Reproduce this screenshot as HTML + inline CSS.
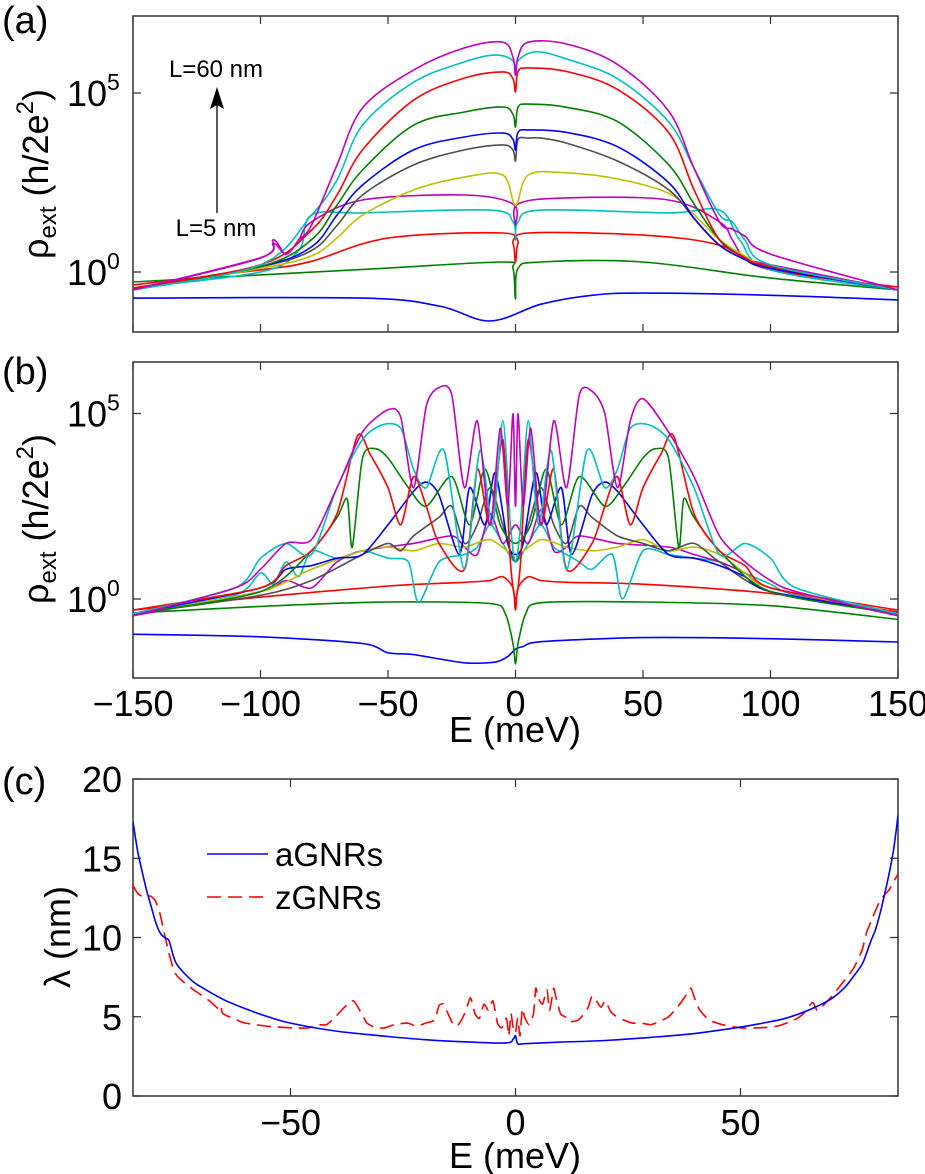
<!DOCTYPE html>
<html><head><meta charset="utf-8"><style>
html,body{margin:0;padding:0;background:#fff;}
svg{display:block;font-family:"Liberation Sans Narrow","Liberation Sans",sans-serif;}
</style></head><body>
<svg id="fig" width="925" height="1174" viewBox="0 0 925 1174" xmlns="http://www.w3.org/2000/svg">
<defs>
<clipPath id="clipA"><rect x="133" y="16" width="765" height="316"/></clipPath>
<clipPath id="clipB"><rect x="133" y="362" width="765" height="316"/></clipPath>
<clipPath id="clipC"><rect x="133" y="779" width="765" height="317"/></clipPath>
</defs>
<g id="root"></g>
</svg>
<script>
// ---------- Panel (a) data: log10(rho) ----------
const colorsA = ["#0000ff","#008000","#ff0000","#00bfbf","#bf00bf","#bfbf00","#505050","#0000ff","#008000","#ff0000","#00bfbf","#bf00bf"];
const aE = [
 [-150,-60,-30,-10,10,30,50,100,150],
 [-150,-100,-50,-5,-1,0,1,10,50,100,150],
 [-150,-100,-80,-50,-5,-1,0,1,5,50,80,100,150],
 [-150,-100,-85,-80,-60,-10,-1,0,1,10,60,80,88,100,150],
 [-150,-100,-95,-90,-85,-80,-60,-20,-1,0,1,20,60,80,85,90,100,150],
 [-150,-100,-80,-70,-60,-40,-20,-5,0,5,20,40,60,70,80,90,100,150],
 [-150,-100,-80,-70,-60,-40,-20,-5,-1,0,1,5,10,20,40,60,70,80,90,100,150],
 [-150,-100,-80,-70,-60,-40,-20,-5,-1,0,1,5,20,40,60,70,80,90,100,150],
 [-150,-100,-80,-70,-60,-40,-20,-5,-1,0,1,5,20,40,60,70,80,90,100,150],
 [-150,-100,-80,-70,-60,-40,-20,-5,-1,0,1,5,20,40,60,70,80,90,100,150],
 [-150,-100,-80,-70,-60,-40,-20,-8,-1,0,1,8,20,40,60,70,80,85,90,100,150],
 [-150,-100,-95,-90,-85,-80,-70,-60,-40,-20,-5,-1,0,1,5,20,40,60,70,80,85,90,100,150]
];
const aV = [
 [-0.73,-0.73,-0.95,-1.37,-0.9,-0.65,-0.59,-0.65,-0.78],
 [-0.28,-0.08,0.11,0.28,0.1,-0.75,0.1,0.28,0.28,-0.17,-0.5],
 [-0.36,0.06,0.3,0.95,1.09,0.8,0.28,0.8,1.09,1.03,0.75,0.06,-0.42],
 [-0.45,0.0,0.61,1.59,1.65,1.73,1.4,0.89,1.4,1.73,1.65,1.73,0.89,0.06,-0.5],
 [-0.5,0.39,0.9,0.5,0.9,1.4,2.01,2.15,1.9,1.31,1.9,2.07,2.01,1.4,0.9,0.39,0.2,-0.5],
 [-0.5,0.1,0.45,0.95,1.59,2.29,2.65,2.71,1.87,2.71,2.77,2.6,2.2,1.6,0.9,0.45,0.15,-0.5],
 [-0.45,0.15,0.6,1.3,2.15,2.99,3.41,3.55,3.4,3.1,3.7,3.74,3.74,3.6,3.1,2.3,1.5,0.75,0.35,0.1,-0.5],
 [-0.5,0.15,0.7,1.59,2.43,3.41,3.77,3.88,3.7,3.41,3.9,3.97,3.9,3.5,2.5,1.5,0.75,0.35,0.1,-0.5],
 [-0.5,0.15,0.9,1.87,2.85,4.1,4.47,4.61,4.4,4.05,4.6,4.69,4.6,4.2,3.0,1.9,0.9,0.4,0.15,-0.5],
 [-0.45,0.2,1.17,2.15,3.41,4.8,5.42,5.59,5.4,5.03,5.6,5.7,5.6,5.1,3.9,2.3,0.9,0.4,0.15,-0.5],
 [-0.5,0.2,1.59,2.57,4.1,5.3,5.87,6.06,5.9,5.5,5.9,6.15,5.95,5.4,4.2,2.9,1.6,1.4,0.89,0.2,-0.5],
 [-0.5,0.4,0.8,0.5,0.89,1.31,2.99,4.58,5.64,6.26,6.42,6.0,5.5,6.0,6.42,6.37,5.8,4.5,2.9,1.4,1.2,1.0,0.5,-0.5]
];
const aYTicks = [0,5];
const xTicksAB = [-150,-100,-50,0,50,100,150];

// ---------- Panel (b) data: log10(rho) ----------
const colorsB = colorsA;
const bE = [
 [-150,-100,-60,-50,-40,-20,-8,-3,0,3,10,50,100,150],
 [-150,-100,-50,-10,-4,-1,0,1,4,10,50,100,150],
 [-150,-100,-50,-20,-10,-5,-1,0,1,5,10,20,50,100,150],
 [-150,-110,-100,-95,-90,-85,-80,-70,-60,-50,-42,-38,-30,-20,-15,-10,-5,0,5,10,15,20,25,30,38,42,50,60,70,80,90,100,110,150],
 [-150,-100,-90,-80,-70,-60,-40,-25,-20,-15,-10,-5,0,5,10,15,20,25,40,60,70,80,90,100,150],
 [-150,-100,-80,-60,-50,-40,-30,-20,-10,0,10,20,30,40,50,60,70,80,90,100,150],
 [-150,-100,-80,-60,-50,-45,-40,-30,-25,-20,-15,-10,-5,0,5,10,15,20,25,30,40,50,60,70,80,100,150],
 [-150,-100,-90,-80,-70,-60,-50,-40,-35,-30,-22,-18,-12,-8,-3,0,3,8,12,18,22,30,35,40,50,60,70,80,90,100,150],
 [-150,-100,-80,-70,-66,-64,-60,-55,-50,-42,-35,-25,-18,-12,-6,0,6,12,18,25,35,42,50,55,60,64,66,70,80,100,150],
 [-150,-100,-90,-80,-70,-62,-57,-50,-45,-40,-35,-30,-20,-15,-10,-5,-2,0,2,5,10,15,20,30,35,40,45,50,57,62,70,80,90,100,150],
 [-150,-110,-100,-90,-80,-70,-60,-52,-45,-40,-35,-28,-20,-14,-9,-5,-2,0,2,5,9,14,20,28,35,40,45,52,60,70,80,90,100,110,150],
 [-150,-110,-100,-90,-80,-70,-60,-50,-45,-40,-35,-30,-25,-20,-15,-10,-6,-3,-1,0,1,3,6,10,15,20,25,30,35,40,45,50,60,70,80,90,100,110,150]
];
const bV = [
 [-0.95,-1.02,-1.2,-1.45,-1.5,-1.72,-1.7,-1.55,-1.35,-1.28,-1.15,-1.04,-1.07,-1.16],
 [-0.38,-0.2,-0.08,-0.12,-0.4,-1.2,-1.75,-1.2,-0.4,-0.1,-0.08,-0.18,-0.55],
 [-0.3,0.05,0.35,0.45,0.5,0.6,0.3,-0.3,0.3,0.6,0.5,0.45,0.4,0.15,-0.35],
 [-0.4,0.1,0.7,0.4,1.0,0.6,1.3,1.1,1.3,1.1,1.0,-0.1,1.0,1.2,1.4,2.0,1.5,1.0,1.5,2.0,1.4,1.2,1.0,0.8,1.2,0.0,1.3,1.2,1.1,1.0,0.7,0.4,0.1,-0.4],
 [-0.45,0.2,0.5,0.3,1.0,1.3,1.5,1.7,1.4,1.2,2.3,1.5,2.0,1.5,2.4,1.3,1.4,1.7,1.5,1.4,1.2,1.0,0.7,0.3,-0.45],
 [-0.4,0.2,0.8,1.3,1.4,1.3,1.5,1.4,1.6,1.2,1.6,1.4,1.3,1.4,1.6,1.3,1.4,1.2,0.7,0.3,-0.4],
 [-0.4,0.1,0.5,1.2,1.5,1.3,1.7,2.2,2.5,1.5,2.0,3.0,2.0,1.0,2.0,3.0,2.0,1.5,2.5,2.2,1.7,1.5,1.3,1.5,1.0,0.2,-0.4],
 [-0.4,0.3,0.8,0.9,1.1,1.2,2.0,2.9,3.15,2.8,1.2,3.0,2.0,3.4,1.5,1.2,1.5,3.4,2.0,3.0,1.2,2.8,3.15,2.9,2.0,1.2,1.1,0.9,0.6,0.2,-0.4],
 [-0.4,0.2,1.3,2.2,2.7,1.4,3.8,4.05,3.8,3.0,2.5,3.3,2.0,3.5,2.0,1.5,2.0,3.5,2.0,3.3,2.5,3.0,3.8,4.05,3.8,1.4,2.7,2.2,1.3,0.2,-0.4],
 [-0.3,0.3,0.9,1.3,2.3,4.4,3.9,3.0,2.0,3.3,2.5,1.5,0.8,3.5,2.0,4.3,1.0,0.0,1.0,4.3,2.0,3.5,0.8,1.5,2.5,3.3,2.0,3.0,3.9,4.4,2.3,1.3,0.9,0.3,-0.3],
 [-0.4,0.3,1.1,1.5,1.2,3.0,4.3,4.7,4.6,3.5,3.0,4.0,0.8,4.0,2.0,4.8,2.0,1.0,2.0,4.8,2.0,4.0,0.8,4.0,3.0,3.5,4.6,4.7,4.3,3.0,1.2,1.5,1.1,0.3,-0.4],
 [-0.45,0.3,0.8,1.5,1.6,3.0,4.5,5.1,4.9,3.0,5.2,5.7,5.5,3.0,4.8,2.0,4.6,2.5,5.0,2.5,5.0,2.5,4.6,2.0,4.8,3.0,5.5,5.6,5.0,3.0,4.8,5.4,4.5,3.3,1.7,1.0,0.5,0.2,-0.45]
];
const bYTicks = [0,5];

// ---------- Panel (c) data: lambda (nm) ----------
const cE_a = [-85,-84,-83,-82,-81,-80,-79,-78,-77,-76,-75,-72,-70,-65,-60,-55,-50,-40,-30,-20,-10,-2,-0.5,0,0.5,2,10,20,30,40,50,55,60,65,70,73,75,77,78,79,80,81,82,83,84,85];
const cV_a = [17.3,15.5,14.2,13.0,12.0,11.0,10.3,10.0,9.8,8.8,8.2,7.3,6.9,6.1,5.5,5.0,4.6,4.1,3.8,3.55,3.4,3.35,3.6,3.8,3.3,3.3,3.4,3.5,3.7,3.95,4.35,4.6,4.9,5.4,6.1,6.8,7.5,8.3,9.0,9.8,10.5,11.5,12.7,14.0,15.5,17.7];
const cE_z = [-85,-84,-83,-82,-81,-80,-79,-78,-77,-76,-75,-72,-70,-68,-66,-65.5,-65,-62,-60,-55,-50,-46,-44,-42,-40,-38,-36,-34,-33,-31,-29,-27,-24,-22,-20,-18,-17,-16,-15,-14,-13,-12,-11,-10,-9,-8,-7,-6,-5,-4,-3,-2,-1.5,-1,-0.5,0,0.5,1,1.5,2,3,4,4.5,5,6,7,7.5,8,8.5,9,10,11,12,14,16,17,18,19,20,21,22,24,26,28,30,32,34,36,38,39,40,41,43,46,50,54,58,62,64,66,67,68,70,72,75,77,78,79,80,81,82,83,84,85];
const cV_z = [13.3,12.8,12.6,12.6,12.6,12.3,11.5,10.2,9.0,8.0,7.5,6.8,6.4,6.0,5.5,5.7,5.2,4.8,4.6,4.4,4.3,4.3,4.5,4.5,5.0,5.6,6.0,5.1,4.6,4.3,4.3,4.5,4.6,4.4,4.6,4.8,5.7,5.8,5.2,4.6,4.4,4.8,5.4,6.2,5.2,4.9,5.8,5.4,6.0,4.6,4.3,4.9,3.8,5.2,4.2,4.0,4.9,3.8,5.5,5.0,4.5,5.2,6.8,6.2,5.8,6.7,5.4,6.0,6.8,6.2,5.2,5.0,4.7,4.8,5.5,6.3,6.0,5.6,6.0,5.4,5.1,4.8,4.6,4.6,4.5,4.7,5.0,5.6,6.4,6.8,6.0,5.4,4.8,4.5,4.3,4.3,4.4,4.8,5.2,5.9,5.4,5.6,6.2,6.9,8.0,9.2,10.3,11.0,11.7,12.3,12.7,13.0,13.5,14.0];
const cYTicks = [0,5,10,15,20];
const cXTicks = [-50,0,50];

// ---------- geometry / axis functions ----------
const NS = "http://www.w3.org/2000/svg";
const root = document.getElementById("root");
const L = 133, R = 898;
const xAB = e => L + (e + 150) / 300 * (R - L);
const yA = v => 272 - v * 35.8;
const yB = v => 599 - v * 37.1;
const xC = e => L + (e + 85) / 170 * (R - L);
const yC = v => 1096 - v * 15.85;

function mk(tag, attrs, parent) {
  const el = document.createElementNS(NS, tag);
  for (const k in attrs) el.setAttribute(k, attrs[k]);
  (parent || root).appendChild(el);
  return el;
}
function txt(x, y, s, anchor, size, parent) {
  const t = mk("text", {x: x, y: y, "font-size": size || 36, "text-anchor": anchor || "middle", fill: "#000"}, parent);
  t.textContent = s;
  return t;
}
// smooth path (Catmull-Rom, tension 0.5) through data points mapped by axis functions
function pathOf(E, V, fx, fy, smooth) {
  const P = E.map((e, i) => [fx(e), fy(V[i])]);
  let d = "M" + P[0][0].toFixed(1) + "," + P[0][1].toFixed(1);
  for (let i = 0; i < P.length - 1; i++) {
    if (!smooth) { d += "L" + P[i+1][0].toFixed(1) + "," + P[i+1][1].toFixed(1); continue; }
    const p0 = P[Math.max(0, i-1)], p1 = P[i], p2 = P[i+1], p3 = P[Math.min(P.length-1, i+2)];
    const k = smooth / 6;
    const c1 = [p1[0] + (p2[0]-p0[0])*k, p1[1] + (p2[1]-p0[1])*k];
    const c2 = [p2[0] - (p3[0]-p1[0])*k, p2[1] - (p3[1]-p1[1])*k];
    d += "C" + c1[0].toFixed(1) + "," + c1[1].toFixed(1) + " " + c2[0].toFixed(1) + "," + c2[1].toFixed(1) + " " + p2[0].toFixed(1) + "," + p2[1].toFixed(1);
  }
  return d;
}

function frame(top, bottom, name) {
  const g = mk("g", {});
  
  
  mk("rect", {x: L, y: top, width: R - L, height: bottom - top, fill: "none", stroke: "#333", "stroke-width": 1.5}, g);
  return g;
}
function supLabel(x, y, base, exp, g) {
  const lab = txt(x, y, base, "end", 36, g);
  lab.setAttribute("text-anchor", "start");
  const sup = mk("tspan", {"font-size": 23, dy: -16}, lab);
  sup.textContent = exp;
  
  
}

// ---------- Panel (a) ----------
const fa = frame(16, 332, "panel-a-axes");
xTicksAB.forEach(t => {
  const x = xAB(t);
  const tk = mk("path", {d: "M" + x + ",332v-8M" + x + ",16v8", stroke: "#333", "stroke-width": 1.2}, fa);
  
  
});
aYTicks.forEach(t => {
  const y = yA(t);
  mk("path", {d: "M" + L + "," + y + "h8M" + R + "," + y + "h-8", stroke: "#333", "stroke-width": 1.2}, fa);
  supLabel(67, y + 13, "10", String(t), fa);
});
const ga = mk("g", {"clip-path": "url(#clipA)"});


aE.forEach((E, i) => {
  const p = mk("path", {d: pathOf(E, aV[i], xAB, yA, 1), fill: "none", stroke: colorsA[i], "stroke-width": 1.6, "stroke-linejoin": "round"}, ga);
  
  
});

// ---------- Panel (b) ----------
const fb = frame(362, 678, "panel-b-axes");
xTicksAB.forEach(t => {
  const x = xAB(t);
  mk("path", {d: "M" + x + ",678v-8M" + x + ",362v8", stroke: "#333", "stroke-width": 1.2}, fb);
  const lab = txt(x, 716, t < 0 ? "\u2212" + (-t) : String(t), "middle", 36, fb);
  
  
});
bYTicks.forEach(t => {
  const y = yB(t);
  mk("path", {d: "M" + L + "," + y + "h8M" + R + "," + y + "h-8", stroke: "#333", "stroke-width": 1.2}, fb);
  supLabel(67, y + 13, "10", String(t), fb);
});
const gb = mk("g", {"clip-path": "url(#clipB)"});


bE.forEach((E, i) => {
  const p = mk("path", {d: pathOf(E, bV[i], xAB, yB, 0.8), fill: "none", stroke: colorsB[i], "stroke-width": 1.6, "stroke-linejoin": "round"}, gb);
  
  
});
const xlabB = txt(515, 742, "E (meV)", "middle", 36);



// ---------- Panel (c) ----------
const fc = frame(779, 1096, "panel-c-axes");
cXTicks.forEach(t => {
  const x = xC(t);
  mk("path", {d: "M" + x + ",1096v-8M" + x + ",779v8", stroke: "#333", "stroke-width": 1.2}, fc);
  const lab = txt(x, 1135, t < 0 ? "\u2212" + (-t) : String(t), "middle", 36, fc);
  
  
});
cYTicks.forEach(t => {
  const y = yC(t);
  mk("path", {d: "M" + L + "," + y + "h8M" + R + "," + y + "h-8", stroke: "#333", "stroke-width": 1.2}, fc);
  const lab = txt(122, y + 13, String(t), "end", 36, fc);
  
  
});
const gc = mk("g", {"clip-path": "url(#clipC)"});


const pz = mk("path", {d: pathOf(cE_z, cV_z, xC, yC, 0.6), fill: "none", stroke: "#ff0000", "stroke-width": 1.6, "stroke-dasharray": "14,7"}, gc);


const pa = mk("path", {d: pathOf(cE_a, cV_a, xC, yC, 1), fill: "none", stroke: "#0000ff", "stroke-width": 1.6}, gc);


const xlabC = txt(515, 1168, "E (meV)", "middle", 36);


</script>
<script>
// static annotations
(function(){
  const svg = document.getElementById("fig");
  svg.insertAdjacentHTML("beforeend", `
  <text x="2" y="33" font-size="38">(a)</text>
  <text x="2" y="384" font-size="38">(b)</text>
  <text x="2" y="794" font-size="38">(c)</text>
  <g transform="translate(48,174) rotate(-90)"><text text-anchor="middle" font-size="36">ρ<tspan font-size="24" dy="8">ext</tspan><tspan dy="-8"> (h/2e</tspan><tspan font-size="24" dy="-15">2</tspan><tspan dy="15">)</tspan></text></g>
  <g transform="translate(48,519) rotate(-90)"><text text-anchor="middle" font-size="36">ρ<tspan font-size="24" dy="8">ext</tspan><tspan dy="-8"> (h/2e</tspan><tspan font-size="24" dy="-15">2</tspan><tspan dy="15">)</tspan></text></g>
  <g transform="translate(70,937) rotate(-90)"><text text-anchor="middle" font-size="36">λ (nm)</text></g>
  <g>
    <line x1="217" y1="213" x2="217" y2="100" stroke="#000" stroke-width="1.3"/>
    <path d="M217,87 L210,109 L217,105 L224,109 Z" fill="#000"/>
  </g>
  <text x="216" y="77" font-size="24" text-anchor="middle">L=60 nm</text>
  <text x="216" y="236" font-size="24" text-anchor="middle">L=5 nm</text>
  <g>
    <line x1="207" y1="854" x2="268" y2="854" stroke="#0000ff" stroke-width="1.6"/>
    <text x="275" y="866" font-size="33">aGNRs</text>
    <line x1="207" y1="897" x2="268" y2="897" stroke="#ff0000" stroke-width="1.6" stroke-dasharray="14,7"/>
    <text x="275" y="909" font-size="33">zGNRs</text>
  </g>`);
})();
</script>
</body></html>
